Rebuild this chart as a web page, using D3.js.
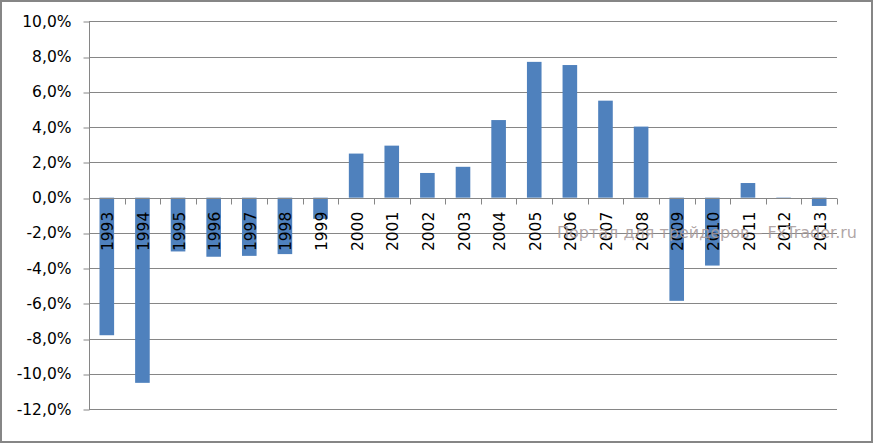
<!DOCTYPE html>
<html><head><meta charset="utf-8">
<script src="https://cdn.jsdelivr.net/npm/d3@7/dist/d3.min.js"></script>
<style>
html,body{margin:0;padding:0;background:#fff;}
svg{display:block;font-family:"DejaVu Sans",sans-serif;}
</style></head>
<body>
<svg id="chart" width="873" height="443"></svg>
<script>
const years = ["1993","1994","1995","1996","1997","1998","1999","2000","2001","2002","2003","2004","2005","2006","2007","2008","2009","2010","2011","2012","2013"];
const values = [-7.8,-10.5,-3.05,-3.35,-3.3,-3.2,-1.2,2.5,2.95,1.4,1.75,4.4,7.7,7.52,5.5,4.03,-5.85,-3.85,0.83,-0.06,-0.47];
const yTicks = [-12,-10,-8,-6,-4,-2,0,2,4,6,8,10];
const watermark = "Портал для трейдеров – FxTrader.ru";

(function(){
const svg = d3.select("#chart");
const W = 873, H = 443;
const pLeft = 89, pRight = 837, pTop = 21.3, pBottom = 409.3;

svg.append("rect").attr("x",1).attr("y",1).attr("width",W-2).attr("height",H-2)
  .attr("fill","#fff").attr("stroke","#868686").attr("stroke-width",2);

const x = d3.scaleBand().domain(years).range([pLeft,pRight]).paddingInner(0.59).paddingOuter(0.295);
const y = d3.scaleLinear().domain([-12,10]).range([pBottom,pTop]);

// gridlines
svg.append("g").selectAll("line").data(yTicks).join("line")
  .attr("x1",pLeft).attr("x2",pRight)
  .attr("y1",d=>Math.round(y(d))+0.5).attr("y2",d=>Math.round(y(d))+0.5)
  .attr("stroke","#868686").attr("stroke-width",1);

// y axis
const yAxis = d3.axisLeft(y).tickValues(yTicks).tickSize(6).tickPadding(12)
  .tickFormat(d=>d3.format(".1f")(d).replace(".",",").replace("−","-")+"%");
const gy = svg.append("g").attr("transform",`translate(${pLeft+0.5},0)`).call(yAxis);
gy.select(".domain").attr("stroke","#868686").attr("d",`M0,${Math.round(y(10))+0.5}V${Math.round(y(-12))+0.5}`);
gy.selectAll(".tick line").attr("stroke","#868686").attr("transform",d=>`translate(0,${Math.round(y(d))+0.5-y(d)})`);
gy.selectAll(".tick text").attr("fill","#000").style("font-size","15.5px").style("font-family","DejaVu Sans");

// bars
svg.append("g").selectAll("rect").data(years).join("rect")
  .attr("x",(d)=>x(d))
  .attr("width",x.bandwidth())
  .attr("y",(d,i)=>y(Math.max(0,values[i])))
  .attr("height",(d,i)=>Math.abs(y(values[i])-y(0)))
  .attr("fill","#4f81bd");

// zero axis with ticks at category boundaries
const y0 = Math.round(y(0))+0.5;
svg.append("line").attr("x1",pLeft).attr("x2",pRight).attr("y1",y0).attr("y2",y0).attr("stroke","#868686");
const step = x.step();
const bounds = d3.range(years.length+1).map(i=>pLeft + i*step);
svg.append("g").selectAll("line").data(bounds).join("line")
  .attr("x1",d=>Math.round(d)+0.5).attr("x2",d=>Math.round(d)+0.5)
  .attr("y1",y0).attr("y2",y0+6).attr("stroke","#868686");

// category labels
svg.append("g").selectAll("text").data(years).join("text")
  .attr("transform",d=>`translate(${x(d)+x.bandwidth()/2+1},${y(0)+14}) rotate(-90)`)
  .attr("text-anchor","end").attr("dy","0.36em")
  .style("font-size","15.5px").attr("fill","#000")
  .text(d=>d);

// watermark
svg.append("text").attr("x",557).attr("y",237.5)
  .style("font-size","16px").attr("fill","#a89b9b").attr("fill-opacity",0.9)
  .text(watermark);
})();
</script>
</body></html>
